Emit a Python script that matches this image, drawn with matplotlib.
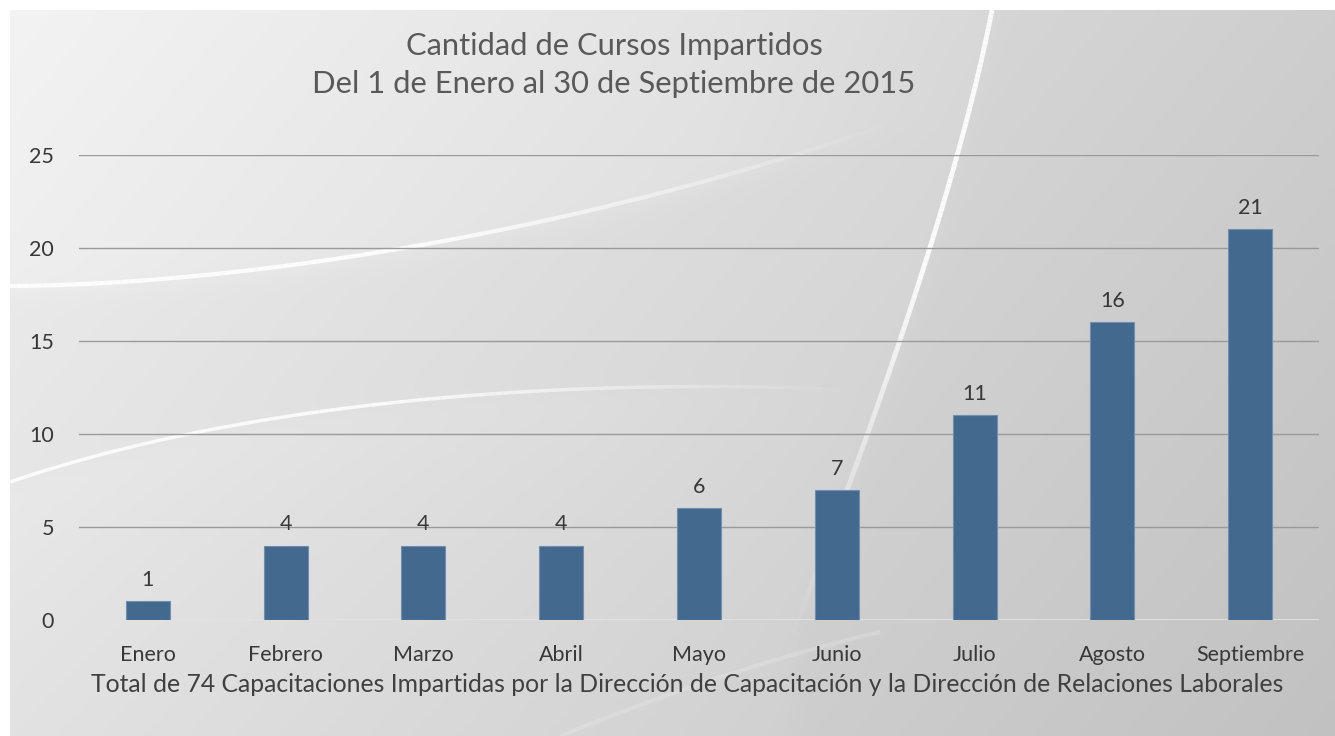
import numpy as np
import matplotlib
matplotlib.use("Agg")
import matplotlib.pyplot as plt
from math import comb

# Courses per month, January to September 2015
meses = ["Enero", "Febrero", "Marzo", "Abril", "Mayo", "Junio", "Julio", "Agosto", "Septiembre"]
cursos = [1, 4, 4, 4, 6, 7, 11, 16, 21]
y_ticks = [0, 5, 10, 15, 20, 25]

titulo = "Cantidad de Cursos Impartidos\nDel 1 de Enero al 30 de Septiembre de 2015"
pie = ("Total de 74 Capacitaciones Impartidas por la Dirección de Capacitación "
       "y la Dirección de Relaciones Laborales")

plt.rcParams["font.family"] = ["Lato", "DejaVu Sans"]

W, H = 1335, 736
fig = plt.figure(figsize=(W / 100, H / 100), dpi=100)
fig.patch.set_facecolor("white")


def bezier(pts, n=300):
    # bezier curve through control points (pixel coords)
    pts = np.asarray(pts, dtype=float)
    t = np.linspace(0, 1, n)[:, None]
    k = len(pts) - 1
    out = sum(comb(k, i) * (1 - t) ** (k - i) * t ** i * pts[i] for i in range(k + 1))
    return out[:, 0], out[:, 1]


# --- gray backdrop with white swooshes ---
bg = fig.add_axes([0, 0, 1, 1], zorder=-2)
bg.set_xlim(0, W)
bg.set_ylim(H, 0)
bg.axis("off")

xx, yy = np.meshgrid(np.arange(W), np.arange(H))
shade = 0.935 - 0.115 * (xx / W) - 0.05 * (yy / H)

upper_pts = [(10, 286), (220, 285), (560, 240), (900, 120)]
lower_pts = [(10, 482), (220, 410), (520, 375), (860, 390)]
vert_pts = [(992, 10), (965, 150), (900, 360), (790, 640)]


def soft(d, w=6.0):
    return 1 / (1 + np.exp(-d / w))


# lighter band above the upper swoosh
ux, uy = bezier(upper_pts)
upper = np.interp(xx, ux, uy)
fade_u = np.clip((950 - xx) / 250, 0, 1)
shade += 0.018 * soft(upper - yy) * fade_u
# slightly lighter strip just under the lower swoosh
lx, ly = bezier(lower_pts)
lower = np.interp(xx, lx, ly)
fade_l = np.clip((880 - xx) / 300, 0, 1)
shade += 0.012 * soft(yy - lower) * np.exp(-(yy - lower).clip(0) / 120) * fade_l
# darker area right of the vertical swoosh
vx, vy = bezier(vert_pts)
edge = np.interp(yy, vy, vx)
shade -= 0.012 * soft(xx - edge)

img = np.dstack([shade] * 3).clip(0, 1)
bg.imshow(img, extent=(10, W, H, 10), aspect="auto", interpolation="bilinear")

for pts, lw, a, fade_end in [
    (upper_pts, 3.0, 0.9, True),
    (lower_pts, 2.5, 0.85, True),
    (vert_pts, 3.5, 0.9, True),
    ([(560, 736), (650, 700), (760, 660), (880, 632)], 3.0, 0.18, False),
]:
    sx, sy = bezier(pts)
    n = len(sx)
    alphas = np.full(n - 1, a)
    if fade_end:
        alphas *= np.clip(np.linspace(2.0, 0, n - 1), 0, 1)
    for i in range(0, n - 1, 3):
        bg.plot(sx[i:i + 4], sy[i:i + 4], color="white", lw=lw, alpha=alphas[i],
                solid_capstyle="butt")

# --- bar chart ---
ax = fig.add_axes([79 / W, 1 - 620 / H, 1240 / W, 465 / H])
ax.set_facecolor("none")
x = np.arange(len(meses))
bars = ax.bar(x, cursos, width=0.32, color="#44698f", edgecolor="#6f8eb0",
              linewidth=0.8, zorder=3)

ax.set_xlim(-0.5, len(meses) - 0.5)
ax.set_ylim(0, 25)
ax.set_yticks(y_ticks)
ax.set_xticks(x)
ax.set_xticklabels(meses)
ax.tick_params(axis="both", length=0, labelsize=15.5, labelcolor="#383838")
ax.tick_params(axis="y", pad=18)
ax.tick_params(axis="x", pad=18)

ax.grid(axis="y", color="#9a9a9a", lw=1.0, zorder=1)
ax.set_axisbelow(True)
for s in ax.spines.values():
    s.set_visible(False)
ax.axhline(0, color="#e4e4e4", lw=2.0, zorder=2)

for b, v in zip(bars, cursos):
    ax.annotate(str(v), (b.get_x() + b.get_width() / 2, v), xytext=(0, 8),
                textcoords="offset points", ha="center", va="bottom",
                fontsize=15.5, color="#383838")

fig.text(614 / W, 1 - 65 / H, titulo, ha="center", va="center",
         fontsize=22.2, color="#595959", linespacing=1.45)
fig.text(687 / W, 1 - 685 / H, pie, ha="center", va="center",
         fontsize=17.8, color="#404040")

fig.savefig("out.png", dpi=100)
